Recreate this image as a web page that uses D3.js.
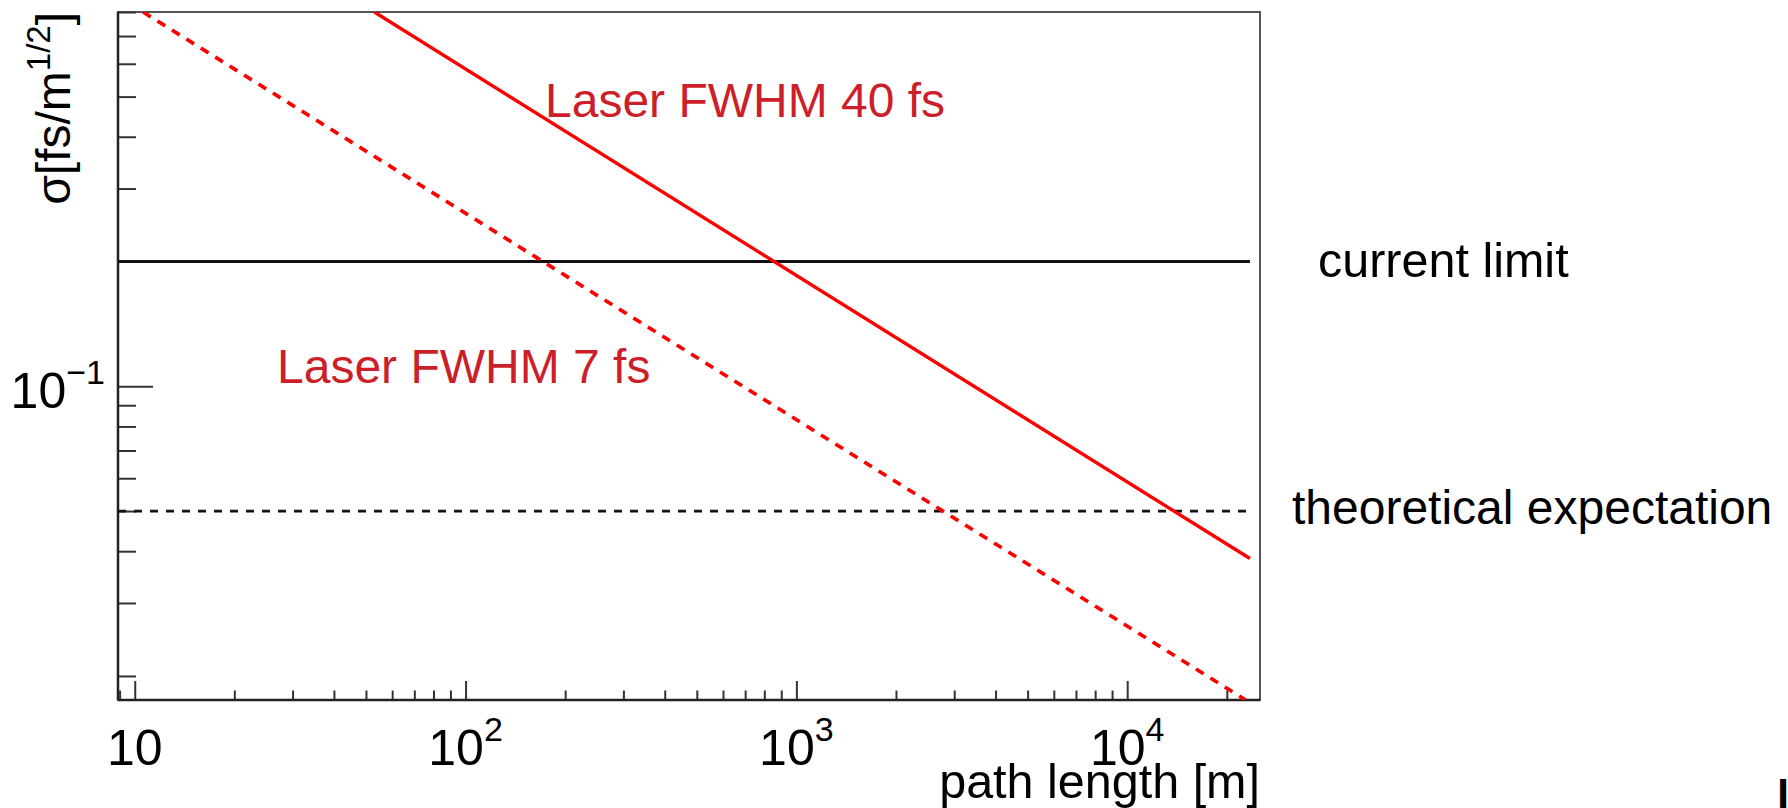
<!DOCTYPE html>
<html>
<head>
<meta charset="utf-8">
<script src="https://cdn.jsdelivr.net/npm/d3@7"></script>
<style>
	html, body { margin: 0; padding: 0; background: #fff; }
	text { font-family: "Liberation Sans", Arial, sans-serif; }
</style>
</head>
<body>
<svg id="chart" width="1788" height="808"></svg>
<script>
/* axis ranges and ticks */
const xDomain = [8.9, 25200];
const yDomain = [0.0175, 0.8];
const xMajor = [10, 100, 1000, 10000];
const xMajorLabels = [["10", ""], ["10", "2"], ["10", "3"], ["10", "4"]];
const xMinor = [9, 20, 30, 40, 50, 60, 70, 80, 90,
	200, 300, 400, 500, 600, 700, 800, 900,
	2000, 3000, 4000, 5000, 6000, 7000, 8000, 9000, 20000];
const yMajor = [0.1];
const yMajorLabels = [["10", "\u22121"]];
const yMinor = [0.02, 0.03, 0.04, 0.05, 0.06, 0.07, 0.08, 0.09,
	0.2, 0.3, 0.4, 0.5, 0.6, 0.7, 0.8];

/* series (path length [m], sigma) */
const laser40Length = [53, 23500];
const laser40Sigma = [0.8, 0.0384];
const laser7Length = [10.6, 22800];
const laser7Sigma = [0.8, 0.0175];
const currentLimitLength = [8.9, 23500];
const currentLimitSigma = [0.2, 0.2];
const theoryLength = [8.9, 23300];
const theorySigma = [0.05, 0.05];

const plotLeft = 118, plotRight = 1260, plotTop = 12, plotBottom = 700;
const labelRed = "#cd1f29";

const svg = d3.select("#chart");

const x = d3.scaleLog().domain(xDomain).range([plotLeft, plotRight]);
const y = d3.scaleLog().domain(yDomain).range([plotBottom, plotTop]);

svg.append("defs").append("clipPath")
	.attr("id", "plot-clip")
	.append("rect")
	.attr("x", plotLeft)
	.attr("y", plotTop)
	.attr("width", plotRight - plotLeft)
	.attr("height", plotBottom - plotTop);

/* frame */
svg.append("rect")
	.attr("x", plotLeft)
	.attr("y", plotTop)
	.attr("width", plotRight - plotLeft)
	.attr("height", plotBottom - plotTop)
	.attr("fill", "none")
	.attr("stroke", "#555")
	.attr("stroke-width", 2);

/* ticks, drawn inward */
function tickAxis(axis, transform, size, values) {
	const g = svg.append("g")
		.attr("transform", transform)
		.call(axis.tickValues(values).tickSize(-size).tickSizeOuter(0).tickFormat(""));
	g.select(".domain").remove();
	g.selectAll(".tick line").attr("stroke", "#333").attr("stroke-width", 2);
	return g;
}
tickAxis(d3.axisBottom(x), `translate(0,${plotBottom})`, 9.5, xMinor);
tickAxis(d3.axisBottom(x), `translate(0,${plotBottom})`, 19, xMajor);
tickAxis(d3.axisLeft(y), `translate(${plotLeft},0)`, 18, yMinor);
tickAxis(d3.axisLeft(y), `translate(${plotLeft},0)`, 35, yMajor);

// darker axis lines
svg.append("line")
	.attr("x1", plotLeft).attr("x2", plotRight)
	.attr("y1", plotBottom).attr("y2", plotBottom)
	.attr("stroke", "#222").attr("stroke-width", 2.5);
svg.append("line")
	.attr("x1", plotLeft).attr("x2", plotLeft)
	.attr("y1", plotTop).attr("y2", plotBottom)
	.attr("stroke", "#222").attr("stroke-width", 2.5);

/* tick labels with superscript exponents */
function powerLabel(px, py, base, exp, anchor) {
	const t = svg.append("text")
		.attr("x", px)
		.attr("y", py)
		.attr("text-anchor", anchor)
		.attr("fill", "#000")
		.attr("font-size", "50px");
	t.append("tspan").text(base);
	if (exp) {
		t.append("tspan")
			.attr("dy", -24)
			.attr("font-size", "34px")
			.text(exp);
	}
}
xMajor.forEach((v, i) => powerLabel(x(v), 765, xMajorLabels[i][0], xMajorLabels[i][1], "middle"));
yMajor.forEach((v, i) => powerLabel(105, y(v) + 22, yMajorLabels[i][0], yMajorLabels[i][1], "end"));

/* axis titles */
svg.append("text")
	.attr("x", plotRight)
	.attr("y", 798)
	.attr("text-anchor", "end")
	.attr("font-size", "48.5px")
	.text("path length [m]");

const yTitle = svg.append("text")
	.attr("transform", "translate(70,12) rotate(-90)")
	.attr("text-anchor", "end")
	.attr("font-size", "48px");
yTitle.append("tspan").text("\u03c3[fs/m");
yTitle.append("tspan").attr("dy", -20).attr("font-size", "33px").text("1/2");
yTitle.append("tspan").attr("dy", 20).text("]");

/* lines */
const line = d3.line()
	.x(d => x(d[0]))
	.y(d => y(d[1]));

const plot = svg.append("g").attr("clip-path", "url(#plot-clip)");

function drawSeries(lengths, sigmas, color, widthPx, dash) {
	plot.append("path")
		.datum(d3.zip(lengths, sigmas))
		.attr("d", line)
		.attr("fill", "none")
		.attr("stroke", color)
		.attr("stroke-width", widthPx)
		.attr("stroke-dasharray", dash);
}
drawSeries(currentLimitLength, currentLimitSigma, "#111", 2.8, null);
drawSeries(theoryLength, theorySigma, "#111", 2.8, "8 8");
drawSeries(laser7Length, laser7Sigma, "#ff0000", 3.8, "9 8");
drawSeries(laser40Length, laser40Sigma, "#ff0000", 3.4, null);

/* annotations */
svg.append("text")
	.attr("x", 545).attr("y", 117)
	.attr("fill", labelRed)
	.attr("font-size", "48px")
	.text("Laser FWHM 40 fs");

svg.append("text")
	.attr("x", 277).attr("y", 383)
	.attr("fill", labelRed)
	.attr("font-size", "48px")
	.text("Laser FWHM 7 fs");

svg.append("text")
	.attr("x", 1318).attr("y", 277)
	.attr("font-size", "48.5px")
	.text("current limit");

svg.append("text")
	.attr("x", 1292).attr("y", 524)
	.attr("font-size", "48px")
	.text("theoretical expectation");

// cut-off glyph in the lower right corner
svg.append("text")
	.attr("x", 1777).attr("y", 811)
	.attr("font-family", "DejaVu Serif")
	.attr("font-weight", "bold")
	.attr("font-size", "44px")
	.text("l");
</script>
</body>
</html>
